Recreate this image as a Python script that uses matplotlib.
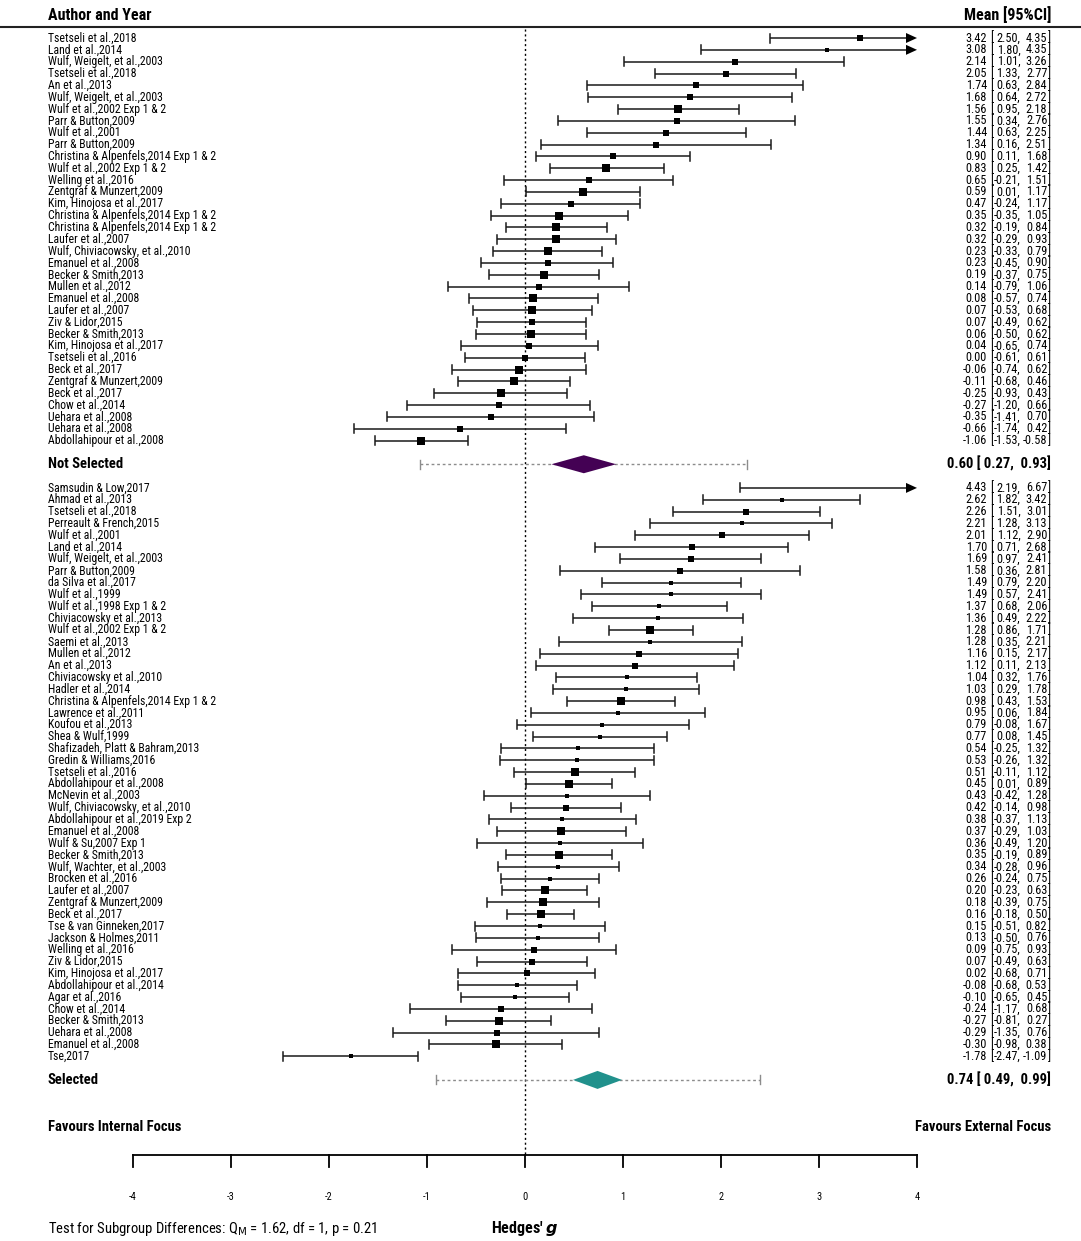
import numpy as np
import matplotlib.pyplot as plt
from matplotlib import font_manager
from matplotlib.patches import Polygon

# condensed face if one exists, otherwise plain Roboto a bit smaller
installed = {f.name for f in font_manager.fontManager.ttflist}
if 'Roboto Condensed' in installed:
    base_font, shrink = 'Roboto Condensed', 1.0
else:
    base_font, shrink = 'Roboto', 0.91
plt.rcParams['font.family'] = [base_font, 'DejaVu Sans']

# ---- data: not selected subgroup ----
ns_labels = [
    "Tsetseli et al.,2018", "Land et al.,2014", "Wulf, Weigelt, et al.,2003",
    "Tsetseli et al.,2018", "An et al.,2013", "Wulf, Weigelt, et al.,2003",
    "Wulf et al.,2002 Exp 1 & 2", "Parr & Button,2009", "Wulf et al.,2001",
    "Parr & Button,2009", "Christina & Alpenfels,2014 Exp 1 & 2",
    "Wulf et al.,2002 Exp 1 & 2", "Welling et al.,2016", "Zentgraf & Munzert,2009",
    "Kim, Hinojosa et al.,2017", "Christina & Alpenfels,2014 Exp 1 & 2",
    "Christina & Alpenfels,2014 Exp 1 & 2", "Laufer et al.,2007",
    "Wulf, Chiviacowsky, et al.,2010", "Emanuel et al.,2008", "Becker & Smith,2013",
    "Mullen et al.,2012", "Emanuel et al.,2008", "Laufer et al.,2007",
    "Ziv & Lidor,2015", "Becker & Smith,2013", "Kim, Hinojosa et al.,2017",
    "Tsetseli et al.,2016", "Beck et al.,2017", "Zentgraf & Munzert,2009",
    "Beck et al.,2017", "Chow et al.,2014", "Uehara et al.,2008",
    "Uehara et al.,2008", "Abdollahipour et al.,2008",
]
ns_est = [3.42, 3.08, 2.14, 2.05, 1.74, 1.68, 1.56, 1.55, 1.44, 1.34, 0.90, 0.83,
          0.65, 0.59, 0.47, 0.35, 0.32, 0.32, 0.23, 0.23, 0.19, 0.14, 0.08, 0.07,
          0.07, 0.06, 0.04, 0.00, -0.06, -0.11, -0.25, -0.27, -0.35, -0.66, -1.06]
ns_lo = [2.50, 1.80, 1.01, 1.33, 0.63, 0.64, 0.95, 0.34, 0.63, 0.16, 0.11, 0.25,
         -0.21, 0.01, -0.24, -0.35, -0.19, -0.29, -0.33, -0.45, -0.37, -0.79, -0.57,
         -0.53, -0.49, -0.50, -0.65, -0.61, -0.74, -0.68, -0.93, -1.20, -1.41, -1.74,
         -1.53]
ns_hi = [4.35, 4.35, 3.26, 2.77, 2.84, 2.72, 2.18, 2.76, 2.25, 2.51, 1.68, 1.42,
         1.51, 1.17, 1.17, 1.05, 0.84, 0.93, 0.79, 0.90, 0.75, 1.06, 0.74, 0.68,
         0.62, 0.62, 0.74, 0.61, 0.62, 0.46, 0.43, 0.66, 0.70, 0.42, -0.58]
ns_weight = [5.5, 3.5, 5, 6, 5, 5, 6.5, 5, 5, 5, 6, 7, 5, 7, 6, 7, 7, 7, 6.5, 6,
             7.5, 5, 6.5, 6.5, 6, 7, 6, 5.5, 6.5, 6.5, 7, 5, 5, 5, 7]
ns_summary = [0.60, 0.27, 0.93]
ns_pi = [-1.07, 2.27]

# ---- data: selected subgroup ----
sel_labels = [
    "Samsudin & Low,2017", "Ahmad et al.,2013", "Tsetseli et al.,2018",
    "Perreault & French,2015", "Wulf et al.,2001", "Land et al.,2014",
    "Wulf, Weigelt, et al.,2003", "Parr & Button,2009", "da Silva et al.,2017",
    "Wulf et al.,1999", "Wulf et al.,1998 Exp 1 & 2", "Chiviacowsky et al.,2013",
    "Wulf et al.,2002 Exp 1 & 2", "Saemi et al.,2013", "Mullen et al.,2012",
    "An et al.,2013", "Chiviacowsky et al.,2010", "Hadler et al.,2014",
    "Christina & Alpenfels,2014 Exp 1 & 2", "Lawrence et al.,2011",
    "Koufou et al.,2013", "Shea & Wulf,1999", "Shafizadeh, Platt & Bahram,2013",
    "Gredin & Williams,2016", "Tsetseli et al.,2016", "Abdollahipour et al.,2008",
    "McNevin et al.,2003", "Wulf, Chiviacowsky, et al.,2010",
    "Abdollahipour et al.,2019 Exp 2", "Emanuel et al.,2008", "Wulf & Su,2007 Exp 1",
    "Becker & Smith,2013", "Wulf, Wachter, et al.,2003", "Brocken et al.,2016",
    "Laufer et al.,2007", "Zentgraf & Munzert,2009", "Beck et al.,2017",
    "Tse & van Ginneken,2017", "Jackson & Holmes,2011", "Welling et al.,2016",
    "Ziv & Lidor,2015", "Kim, Hinojosa et al.,2017", "Abdollahipour et al.,2014",
    "Agar et al.,2016", "Chow et al.,2014", "Becker & Smith,2013",
    "Uehara et al.,2008", "Emanuel et al.,2008", "Tse,2017",
]
sel_est = [4.43, 2.62, 2.26, 2.21, 2.01, 1.70, 1.69, 1.58, 1.49, 1.49, 1.37, 1.36,
           1.28, 1.28, 1.16, 1.12, 1.04, 1.03, 0.98, 0.95, 0.79, 0.77, 0.54, 0.53,
           0.51, 0.45, 0.43, 0.42, 0.38, 0.37, 0.36, 0.35, 0.34, 0.26, 0.20, 0.18,
           0.16, 0.15, 0.13, 0.09, 0.07, 0.02, -0.08, -0.10, -0.24, -0.27, -0.29,
           -0.30, -1.78]
sel_lo = [2.19, 1.82, 1.51, 1.28, 1.12, 0.71, 0.97, 0.36, 0.79, 0.57, 0.68, 0.49,
          0.86, 0.35, 0.15, 0.11, 0.32, 0.29, 0.43, 0.06, -0.08, 0.08, -0.25, -0.26,
          -0.11, 0.01, -0.42, -0.14, -0.37, -0.29, -0.49, -0.19, -0.28, -0.24, -0.23,
          -0.39, -0.18, -0.51, -0.50, -0.75, -0.49, -0.68, -0.68, -0.65, -1.17, -0.81,
          -1.35, -0.98, -2.47]
sel_hi = [6.67, 3.42, 3.01, 3.13, 2.90, 2.68, 2.41, 2.81, 2.20, 2.41, 2.06, 2.22,
          1.71, 2.21, 2.17, 2.13, 1.76, 1.78, 1.53, 1.84, 1.67, 1.45, 1.32, 1.32,
          1.12, 0.89, 1.28, 0.98, 1.13, 1.03, 1.20, 0.89, 0.96, 0.75, 0.63, 0.75,
          0.50, 0.82, 0.76, 0.93, 0.63, 0.71, 0.53, 0.45, 0.68, 0.27, 0.76, 0.38,
          -1.09]
sel_weight = [5, 4, 6, 3.5, 5, 5, 6, 5, 4, 4, 4, 4, 8, 4, 5, 5.5, 4, 4, 7, 4, 4, 4,
              4, 4, 7, 7, 4, 5.5, 4, 6.5, 4, 8, 4, 4, 7, 7, 8, 4, 4, 5, 6, 6, 4, 4,
              5, 8, 5, 7, 3.5]
sel_summary = [0.74, 0.49, 0.99]
sel_pi = [-0.91, 2.40]

ticks = [-4, -3, -2, -1, 0, 1, 2, 3, 4]
xmin, xmax = -4, 4

# ---- figure: one axes over the whole canvas, y in pixels from the top ----
W, H = 1081, 1241
fig = plt.figure(figsize=(W / 100, H / 100), dpi=100)
ax = fig.add_axes([0, 0, 1, 1])
ppu = 98.0                      # pixels per unit of g
x_of = lambda px: xmin + (px - 133) / ppu
ax.set_xlim(x_of(0), x_of(W))
ax.set_ylim(H, 0)
ax.axis('off')
renderer = fig.canvas.get_renderer()

step = 11.84
ns_y = 38 + step * np.arange(len(ns_est))
ns_sum_y = ns_y[-1] + 2 * step
sel_y = ns_sum_y + 2 * step + step * np.arange(len(sel_est))
sel_sum_y = sel_y[-1] + 2 * step

lab_x = x_of(48)
right_x = x_of(1051)
fs = 8.5 * shrink
fs_num = 8.8 * shrink
fb = 10.5 * shrink
line_col = '#1a1a1a'


def text_w(s, size, weight='normal'):
    t = ax.text(0, 0, s, fontsize=size, fontweight=weight)
    w = t.get_window_extent(renderer).width
    t.remove()
    return w


# column layout of the "Mean [95%CI]" block, measured from the right edge
all_lo = ns_lo + sel_lo
all_hi = ns_hi + sel_hi
w_br = text_w("]", fs_num)
w_hi = max(text_w(f"{v:.2f}", fs_num) for v in all_hi)
w_lo = max(text_w(f"{v:.2f},", fs_num) for v in all_lo)
col_close = 1051 - w_br
col_hi = col_close - 0.5
col_lo = col_hi - w_hi - 2.5
col_open = col_lo - w_lo - 0.5
col_est = col_open - w_br - 3


def draw_studies(labels, est, lo, hi, weight, ys):
    for lab, e, l, h, w, y in zip(labels, est, lo, hi, weight, ys):
        l_c, h_c = max(l, xmin), min(h, xmax)
        arrow_len = 11 / ppu
        h_line = h_c - arrow_len if h > xmax else h_c
        ax.plot([l_c, h_line], [y, y], color=line_col, lw=1.1, solid_capstyle='butt')
        if l >= xmin:
            ax.plot([l, l], [y - 4.5, y + 4.5], color=line_col, lw=1.1)
        if h <= xmax:
            ax.plot([h, h], [y - 4.5, y + 4.5], color=line_col, lw=1.1)
        else:
            ax.add_patch(Polygon([[xmax - arrow_len, y - 5], [xmax, y],
                                  [xmax - arrow_len, y + 5]], closed=True,
                                 color='black', lw=0))
        if xmin <= e <= xmax:
            ax.scatter([e], [y], marker='s', s=(w * 0.78) ** 2, color='black',
                       zorder=3, linewidths=0)
        ax.text(lab_x, y, lab, fontsize=fs, va='center', ha='left')
        ax.text(x_of(col_est), y, f"{e:.2f}", fontsize=fs_num, va='center', ha='right')
        ax.text(x_of(col_open), y, "[", fontsize=fs_num, va='center', ha='right')
        ax.text(x_of(col_lo), y, f"{l:.2f},", fontsize=fs_num, va='center', ha='right')
        ax.text(x_of(col_hi), y, f"{h:.2f}", fontsize=fs_num, va='center', ha='right')
        ax.text(x_of(col_close), y, "]", fontsize=fs_num, va='center', ha='left')


def draw_summary(summary, pi, y, color, name):
    m, l, h = summary
    ax.plot([pi[0], pi[1]], [y, y], color='#8c8c8c', lw=1.0, ls=(0, (2, 2)))
    for p in pi:
        ax.plot([p, p], [y - 4.5, y + 4.5], color='#8c8c8c', lw=1.0)
    ax.add_patch(Polygon([[l, y], [m, y - 9], [h, y], [m, y + 9]], closed=True,
                         color=color, lw=0, zorder=3))
    ax.text(lab_x, y, name, fontsize=fb, fontweight='bold', va='center')
    ax.text(right_x, y, f"{m:.2f} [ {l:.2f},  {h:.2f}]", fontsize=fb,
            fontweight='bold', va='center', ha='right')


# header
ax.text(lab_x, 15, "Author and Year", fontsize=11.5 * shrink, fontweight='bold',
        va='center')
ax.text(right_x, 15, "Mean [95%CI]", fontsize=11.5 * shrink, fontweight='bold',
        va='center', ha='right')
ax.plot([x_of(0), x_of(W)], [27, 27], color='#222222', lw=1.5)

# reference line at 0
ax.plot([0, 0], [29, 1155], color='black', lw=1.0, ls=(0, (1.5, 2)))

draw_studies(ns_labels, ns_est, ns_lo, ns_hi, ns_weight, ns_y)
draw_summary(ns_summary, ns_pi, ns_sum_y, '#440154', "Not Selected")
draw_studies(sel_labels, sel_est, sel_lo, sel_hi, sel_weight, sel_y)
draw_summary(sel_summary, sel_pi, sel_sum_y, '#21918c', "Selected")

# favours labels
ax.text(lab_x, 1127, "Favours Internal Focus", fontsize=fb, fontweight='bold',
        va='center')
ax.text(right_x, 1127, "Favours External Focus", fontsize=fb, fontweight='bold',
        va='center', ha='right')

# x axis drawn by hand (ticks point down, labels far below)
ax.plot([xmin, xmax], [1155, 1155], color='black', lw=1.3)
for t in ticks:
    ax.plot([t, t], [1155, 1167], color='black', lw=1.3)
    ax.text(t, 1197, f"{t}", fontsize=7.5, ha='center', va='center')
ax.text(0, 1229, r"Hedges' $\mathbfit{g}$", fontsize=11.5, fontweight='bold',
        ha='center', va='center')
ax.text(lab_x, 1229,
        r"Test for Subgroup Differences: Q$_\mathrm{M}$ = 1.62, df = 1, p = 0.21",
        fontsize=10.5 * shrink, va='center')

fig.savefig("out.png", dpi=100)
